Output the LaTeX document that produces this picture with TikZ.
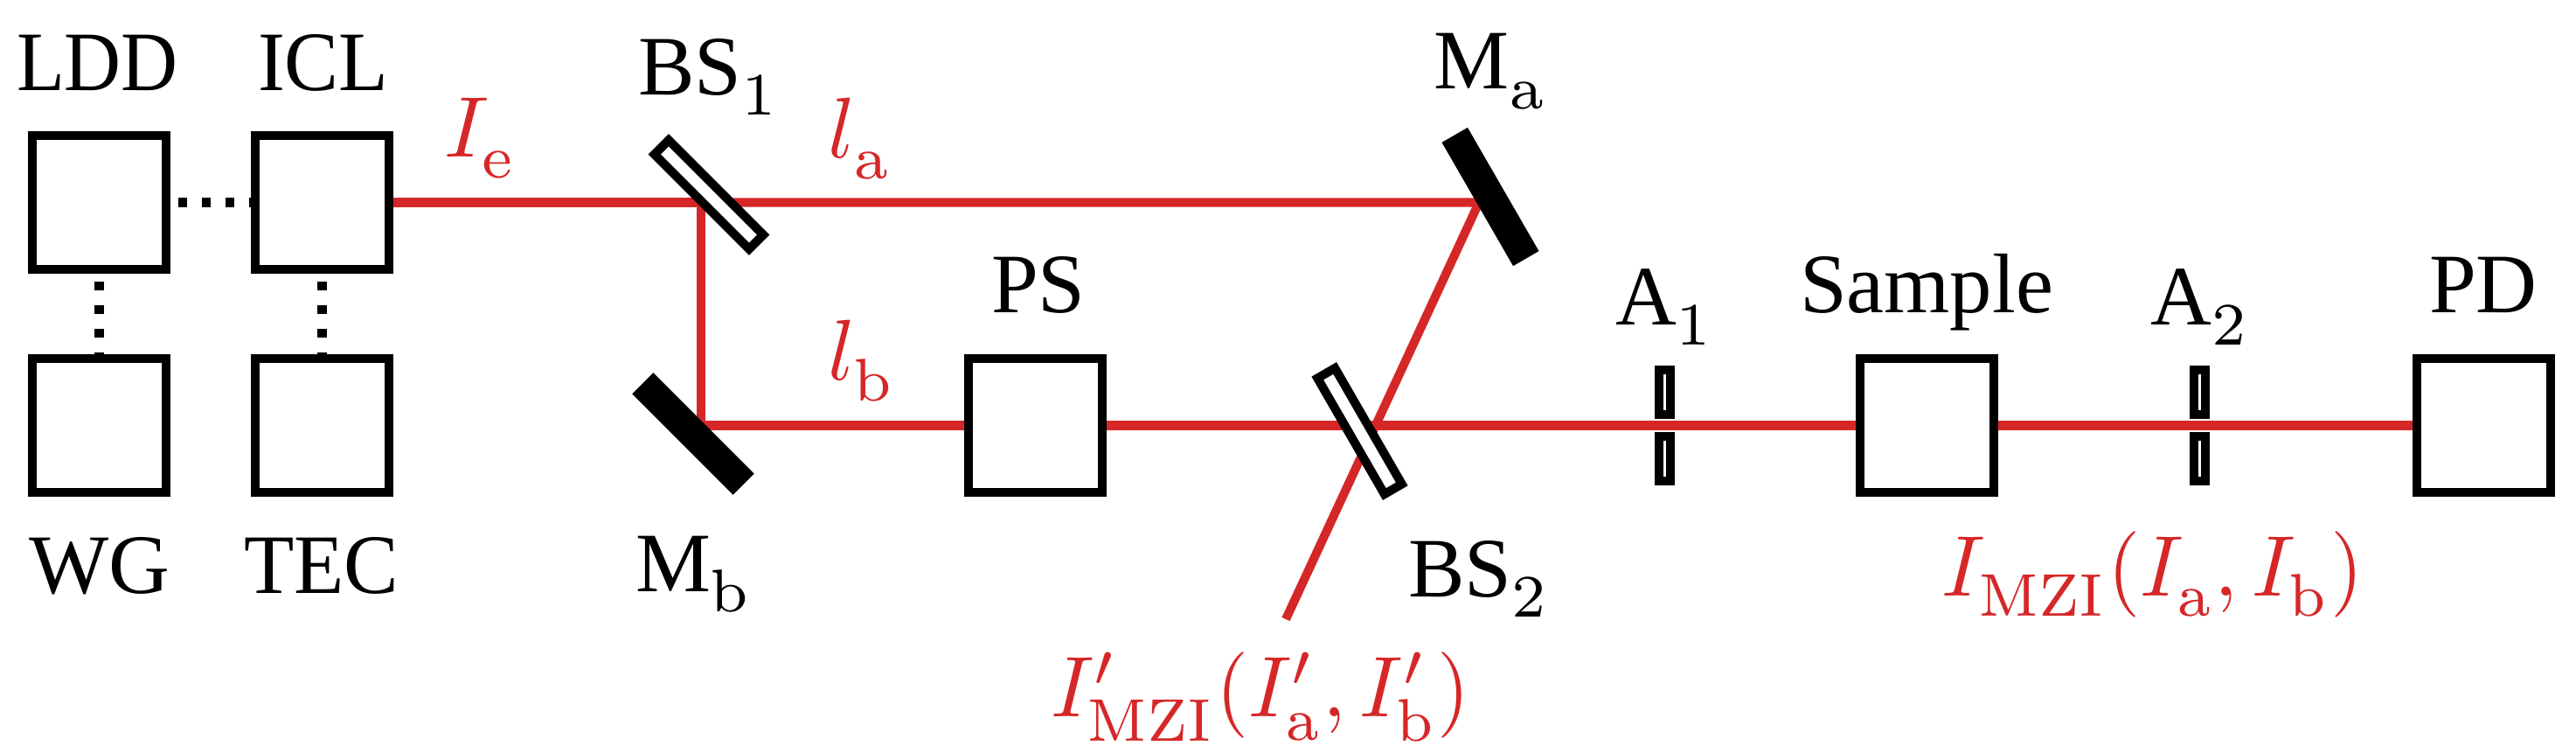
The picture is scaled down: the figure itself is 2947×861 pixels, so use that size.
\documentclass[tikz,border=0pt]{standalone}
\usepackage[no-math]{fontspec}
\setmainfont{Liberation Serif}
\definecolor{beamred}{HTML}{D62728}
\newcommand{\mth}[1]{\scalebox{2.8}{\fontsize{10}{12}\selectfont$\fontdimen16\textfont2=2.36pt \fontdimen17\textfont2=2.74pt #1$}}
\tikzset{
  lw/.style={line width=2.85pt},
  boxnode/.style={draw,lw,rectangle,minimum width=1.53cm,minimum height=1.53cm,inner sep=0pt},
  splitter/.style={draw,lw,fill=white,rectangle,minimum width=1.53cm,minimum height=0.23cm,inner sep=0pt},
  mirror/.style={draw,lw,fill=black,rectangle,minimum width=1.53cm,minimum height=0.24cm,inner sep=0pt},
  slit/.style={draw,lw,fill=white,rectangle,minimum width=0.13cm,minimum height=0.51cm,inner sep=0pt},
  beam/.style={draw=beamred,line width=2.85pt,line cap=butt,line join=miter},
  dots/.style={draw=black,lw,dash pattern=on 2.85pt off 4.85pt,dash phase=5.2pt},
  lbl/.style={anchor=base west,inner sep=0pt,outer sep=0pt,font=\fontsize{27.5}{33}\selectfont},
  rlbl/.style={lbl,text=beamred}
}
\begin{document}
\begin{tikzpicture}[x=0.01cm,y=-0.01cm]
\useasboundingbox (0,0) rectangle (2947,861);
% boxes
\node[boxnode] (ldd) at (113.5,231.5) {};
\node[boxnode] (icl) at (368.5,231.5) {};
\node[boxnode] (wg) at (113.5,486.5) {};
\node[boxnode] (tec) at (368.5,486.5) {};
\node[boxnode] (ps) at (1184.5,486.5) {};
\node[boxnode] (sample) at (2204.5,486.5) {};
\node[boxnode] (pd) at (2841.5,486.5) {};
% dotted connections
\draw[dots] (ldd.east) -- (icl.west);
\draw[dots] (ldd.south) -- (wg.north);
\draw[dots] (icl.south) -- (tec.north);
% beam points
\coordinate (hita) at (802,231.5);
\coordinate (hitb) at (802,486.5);
\coordinate (hitm) at (1692,231.5);
\coordinate (free) at (1471,708);
\draw[beam] (icl.east) -- (hita);
\draw[beam] (hita) -- (hitm) -- (free);
\draw[beam] (hita) -- (hitb) -- (ps.west);
\draw[beam] (ps.east) -- (sample.west);
\draw[beam] (sample.east) -- (pd.west);
% optics
\node[splitter,rotate=-45] (bs1) at (811,222.5) {};
\node[splitter,rotate=-60] (bs2) at (1555.5,493) {};
\node[mirror,rotate=-45] (mb) at (793,496) {};
\node[mirror,rotate=-60] (ma) at (1705,225) {};
\node[slit] (a1u) at (1904.5,448.5) {};
\node[slit] (a1l) at (1904.5,524.5) {};
\node[slit] (a2u) at (2516.5,448.5) {};
\node[slit] (a2l) at (2516.5,524.5) {};
% labels
\node[lbl] (tldd) at (19,103.6) {\scalebox{0.93}[1]{LDD}};
\node[lbl] (ticl) at (295,103.6) {\scalebox{0.96}[1]{ICL}};
\node[lbl] (twg) at (33,678.6) {WG};
\node[lbl] (ttec) at (279,678.6) {\scalebox{0.97}[1]{TEC}};
\node[lbl] (tbs1) at (730,108.5) {BS\mth{_{1}}};
\node[lbl] (tmb) at (727,676) {M\mth{_{\mathrm{b}}}};
\node[lbl] (tma) at (1640,101.7) {M\mth{_{\mathrm{a}}}};
\node[lbl] (tps) at (1134,358) {PS};
\node[lbl] (tbs2) at (1611,682.5) {BS\mth{_{2}}};
\node[lbl] (ta1) at (1848,371.7) {A\mth{_{1}}};
\node[lbl] (tsample) at (2059,358) {Sample};
\node[lbl] (ta2) at (2460.6,371.7) {A\mth{_{2}}};
\node[lbl] (tpd) at (2779,358) {PD};
\node[rlbl] (tie) at (508,180) {\mth{I_{\mathrm{e}}}};
\node[rlbl] (tla) at (947,181) {\mth{l_{\mathrm{a}}}};
\node[rlbl] (tlb) at (947,435) {\mth{l_{\mathrm{b}}}};
\node[rlbl] (tmzi) at (2221,681.7) {\scalebox{0.975}[1]{\mth{I_{\mathrm{MZI}}(I_{\mathrm{a}},I_{\mathrm{b}})}}};
\node[rlbl] (tmzip) at (1202,820) {\scalebox{0.97}[1]{\mth{I'_{\mathrm{MZI}}(I'_{\mathrm{a}},I'_{\mathrm{b}})}}};
\end{tikzpicture}
\end{document}
